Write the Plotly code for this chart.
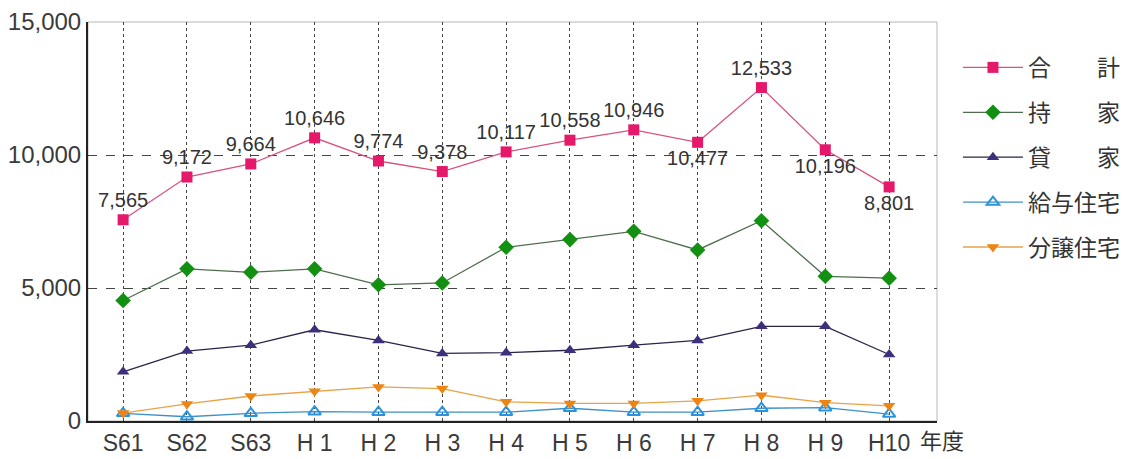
import plotly.graph_objects as go

years = ["S61", "S62", "S63", "H 1", "H 2", "H 3", "H 4", "H 5", "H 6", "H 7", "H 8", "H 9", "H10"]
total = [7565, 9172, 9664, 10646, 9774, 9378, 10117, 10558, 10946, 10477, 12533, 10196, 8801]
owned = [4530, 5720, 5590, 5720, 5120, 5190, 6530, 6820, 7130, 6430, 7530, 5440, 5370]
rented = [1850, 2630, 2850, 3430, 3030, 2540, 2570, 2660, 2850, 3030, 3560, 3560, 2500]
company = [290, 160, 290, 350, 330, 330, 330, 480, 330, 330, 480, 500, 260]
forsale = [300, 640, 940, 1120, 1280, 1220, 720, 660, 660, 760, 970, 690, 570]
total_labels = ["7,565", "9,172", "9,664", "10,646", "9,774", "9,378", "10,117",
                "10,558", "10,946", "10,477", "12,533", "10,196", "8,801"]
label_pos = ["top center"] * 9 + ["bottom center", "top center", "bottom center", "bottom center"]

names = ["合　　計", "持　　家", "貸　　家", "給与住宅", "分譲住宅"]

x = list(range(len(years)))
fig = go.Figure()

fig.add_trace(go.Scatter(
    x=x, y=total, name=names[0], legendgroup="a", mode="lines+markers+text",
    line=dict(color="#d9527f", width=1.3),
    marker=dict(symbol="square", size=11, color="#e5186a"),
    text=total_labels, textposition=label_pos,
    textfont=dict(family="Liberation Sans, Arial", size=20, color="#333333"),
))
fig.add_trace(go.Scatter(
    x=x, y=owned, name=names[1], legendgroup="b", mode="lines+markers",
    line=dict(color="#4f6e4f", width=1.3),
    marker=dict(symbol="diamond", size=12, color="#129012"),
))
fig.add_trace(go.Scatter(
    x=x, y=rented, name=names[2], legendgroup="c", mode="lines+markers",
    line=dict(color="#2b2448", width=1.3),
    marker=dict(symbol="triangle-up", size=11, color="#3e2f7c"),
))
fig.add_trace(go.Scatter(
    x=x, y=company, name=names[3], legendgroup="d", mode="lines+markers",
    line=dict(color="#3f8fc8", width=1.3),
    marker=dict(symbol="triangle-up-open", size=11, color="#2a93dd", line=dict(width=2)),
))
fig.add_trace(go.Scatter(
    x=x, y=forsale, name=names[4], legendgroup="e", mode="lines+markers",
    line=dict(color="#e8a248", width=1.3),
    marker=dict(symbol="triangle-down", size=11, color="#ee8412"),
))

# light frame
fig.add_shape(type="rect", xref="paper", yref="paper", x0=0, x1=1, y0=0, y1=1,
              line=dict(color="#b8b8b8", width=1), layer="below")

fig.add_annotation(x=12.45, y=0, xref="x", yref="paper", text="年度",
                   showarrow=False, xanchor="left", yanchor="top", yshift=0,
                   font=dict(family="Noto Sans CJK JP", size=22, color="#333333"))

fig.update_layout(
    width=1124, height=459,
    margin=dict(l=88, r=187, t=22, b=38, autoexpand=False),
    paper_bgcolor="white", plot_bgcolor="white",
    font=dict(family="Liberation Sans, Arial", size=20, color="#3a3a3a"),
    showlegend=True,
    legend=dict(x=1.0247, y=0.94, xanchor="left", yanchor="top",
                font=dict(family="Noto Sans CJK JP", size=23, color="#333333"),
                tracegroupgap=12, itemwidth=60, bgcolor="rgba(0,0,0,0)"),
    xaxis=dict(range=[-0.55, 12.75], tickmode="array", tickvals=x, ticktext=years,
               showgrid=True, gridcolor="#444444", griddash="dot", gridwidth=1,
               showline=True, linecolor="#222222", linewidth=2, automargin=False,
               ticks="", zeroline=False, tickfont=dict(size=23)),
    yaxis=dict(range=[0, 15000], tickvals=[0, 5000, 10000, 15000],
               ticktext=["0", "5,000", "10,000", "15,000"],
               showgrid=True, gridcolor="#444444", griddash="dash", gridwidth=1,
               showline=True, linecolor="#222222", linewidth=2, automargin=False,
               ticks="", zeroline=False, tickfont=dict(size=24)),
)

fig.write_html("out.html")
